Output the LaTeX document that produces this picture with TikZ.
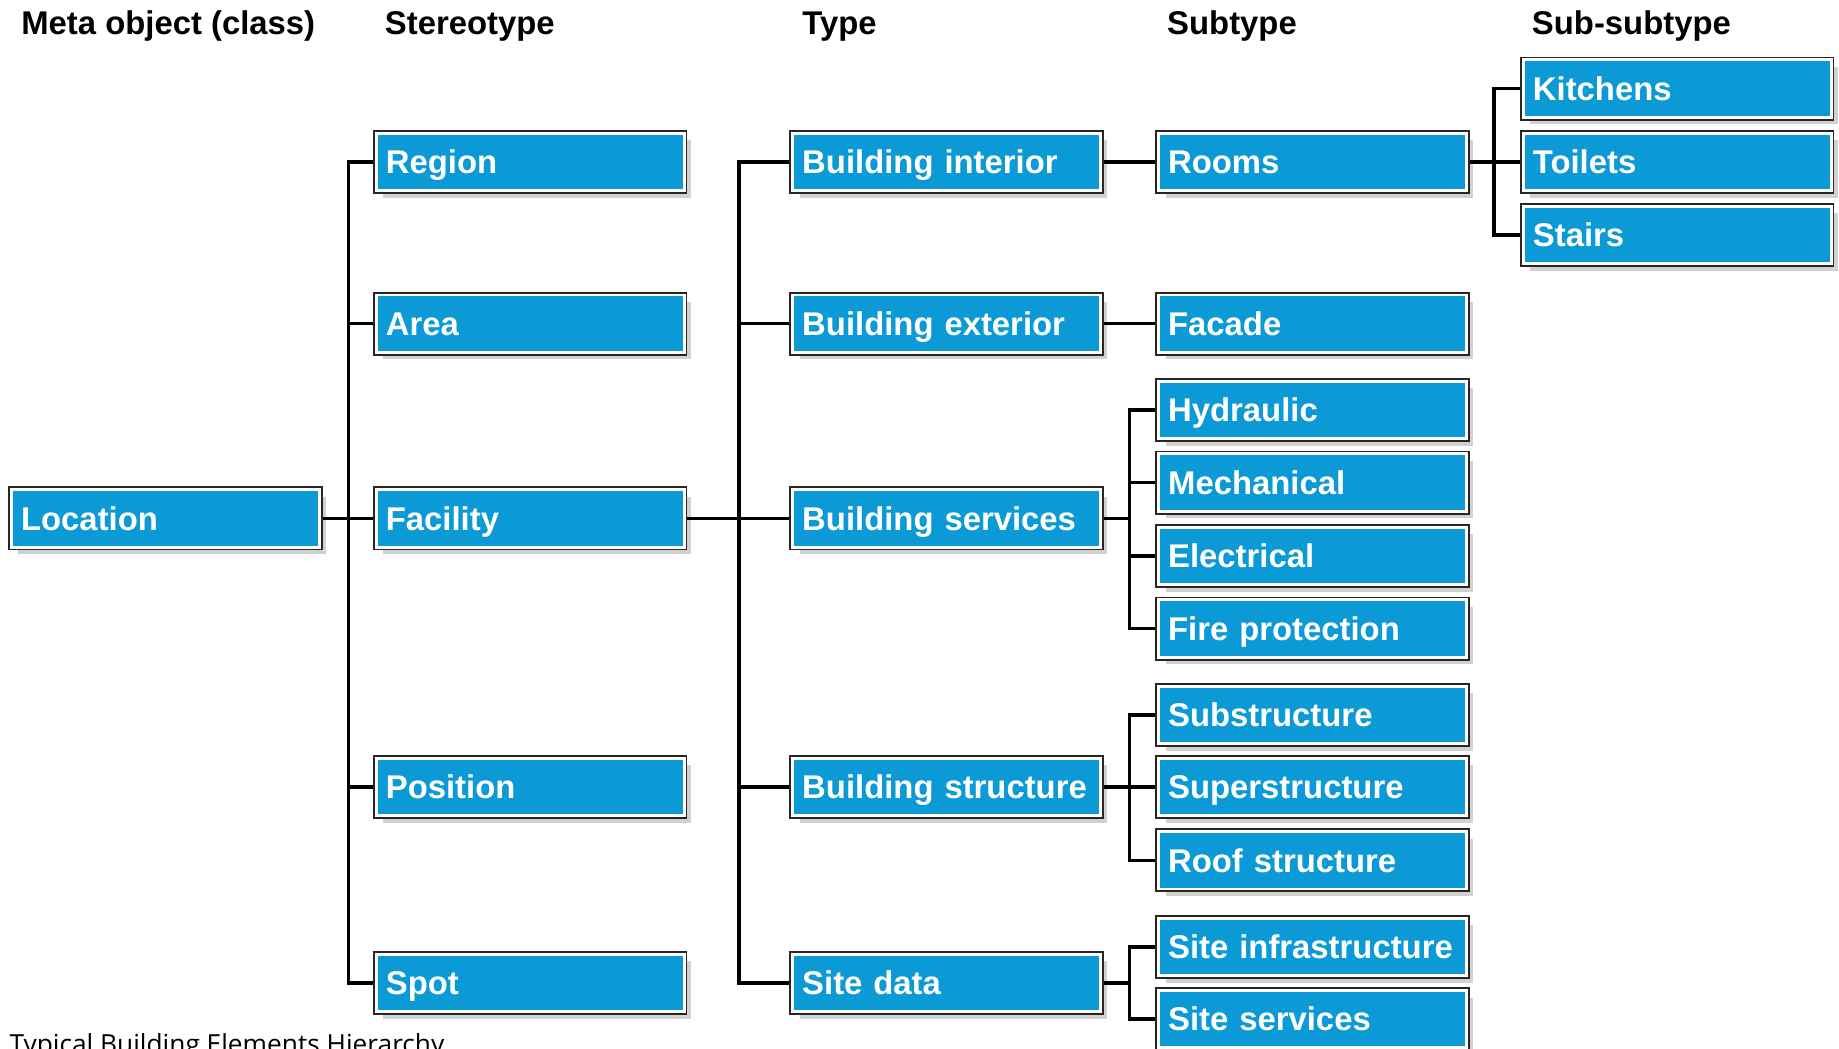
\documentclass[tikz,border=0pt]{standalone}
\usepackage{fontspec}
\setmainfont{Liberation Sans}
\newfontfamily\capfont{Open Sans}
\usetikzlibrary{shadows}
\definecolor{boxblue}{RGB}{11,154,214}
\begin{document}
\begin{tikzpicture}[x=1pt,y=-1pt,
  box/.style={anchor=west, fill=boxblue, draw=white, line width=2.5pt,
    minimum width=262.5pt, minimum height=49pt, text width=246pt,
    inner xsep=8.25pt, inner ysep=0pt, align=left,
    text height=20pt, text depth=0pt,
    font=\fontsize{28}{30}\selectfont\bfseries, text=white, outer sep=2.75pt,
    drop shadow={shadow xshift=6pt, shadow yshift=-6pt, fill=black!45, opacity=0.4},
    preaction={draw=black!85, line width=5.5pt}},
  head/.style={anchor=base west, inner sep=0pt, font=\fontsize{28}{30}\selectfont\bfseries},
  conn/.style={line width=3pt, draw=black}]
\useasboundingbox (0,0) rectangle (1568,894);

% headers
\node[head] (h1) at (18,29) {Meta object (class)};
\node[head] (h2) at (328,29) {Stereotype};
\node[head] (h3) at (684,29) {Type};
\node[head] (h4) at (995,29) {Subtype};
\node[head] (h5) at (1306,29) {Sub-subtype};

% meta object
\node[box] (loc) at (7,442) {Location};

% stereotypes
\node[box] (reg)  at (318,138) {Region};
\node[box] (area) at (318,276) {Area};
\node[box] (fac)  at (318,442) {Facility};
\node[box] (pos)  at (318,671) {Position};
\node[box] (spot) at (318,838) {Spot};

% types
\node[box] (bint)  at (673,138) {Building interior};
\node[box] (bext)  at (673,276) {Building exterior};
\node[box] (bserv) at (673,442) {Building services};
\node[box] (bstr)  at (673,671) {Building structure};
\node[box] (site)  at (673,838) {Site data};

% subtypes
\node[box] (rooms)  at (985,138) {Rooms};
\node[box] (facade) at (985,276) {Facade};
\node[box] (hyd)    at (985,349.5) {Hydraulic};
\node[box] (mech)   at (985,411.5) {Mechanical};
\node[box] (elec)   at (985,474) {Electrical};
\node[box] (fire)   at (985,536) {Fire protection};
\node[box] (subs)   at (985,609.5) {Substructure};
\node[box] (sups)   at (985,671) {Superstructure};
\node[box] (roof)   at (985,733.5) {Roof structure};
\node[box] (sinf)   at (985,807.5) {Site infrastructure};
\node[box] (sserv)  at (985,869) {Site services};

% sub-subtypes
\node[box] (kit)    at (1296,75.5) {Kitchens};
\node[box] (toil)   at (1296,138) {Toilets};
\node[box] (stairs) at (1296,200.5) {Stairs};

% spine coordinates
\coordinate (sp1) at (297,442);
\coordinate (sp2) at (630,442);
\coordinate (sp3a) at (963,442);
\coordinate (sp3b) at (963,671);
\coordinate (sp3c) at (963,838);
\coordinate (sp4) at (1274,138);

% connectors
\draw[conn] (reg.west) -| (sp1) |- (spot.west);
\draw[conn] (area.west) -- (area.west -| sp1);
\draw[conn] (pos.west) -- (pos.west -| sp1);
\draw[conn] (loc.east) -- (fac.west);

\draw[conn] (bint.west) -| (sp2) |- (site.west);
\draw[conn] (bext.west) -- (bext.west -| sp2);
\draw[conn] (bstr.west) -- (bstr.west -| sp2);
\draw[conn] (fac.east) -- (bserv.west);

\draw[conn] (bint.east) -- (rooms.west);
\draw[conn] (bext.east) -- (facade.west);

\draw[conn] (hyd.west) -| (sp3a) |- (fire.west);
\draw[conn] (mech.west) -- (mech.west -| sp3a);
\draw[conn] (elec.west) -- (elec.west -| sp3a);
\draw[conn] (bserv.east) -- (sp3a);

\draw[conn] (subs.west) -| (sp3b) |- (roof.west);
\draw[conn] (bstr.east) -- (sups.west);

\draw[conn] (sinf.west) -| (sp3c) |- (sserv.west);
\draw[conn] (site.east) -- (sp3c);

\draw[conn] (kit.west) -| (sp4) |- (stairs.west);
\draw[conn] (rooms.east) -- (toil.west);

% caption
\node[anchor=base west, inner sep=0pt, font=\capfont\fontsize{22.4}{26}\selectfont] (cap) at (8,898) {Typical Building Elements Hierarchy};
\end{tikzpicture}
\end{document}
